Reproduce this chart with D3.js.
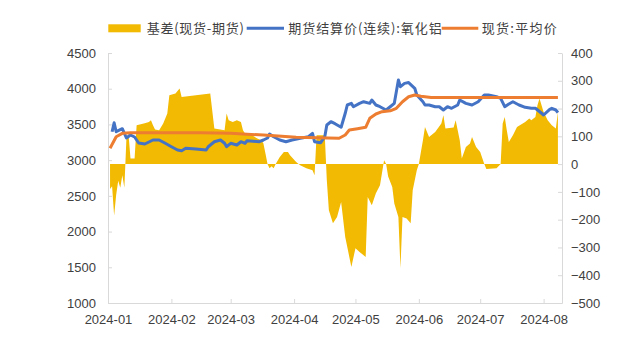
<!DOCTYPE html>
<html><head><meta charset="utf-8">
<script src="https://cdn.jsdelivr.net/npm/d3@7"></script>
<style>body{margin:0;background:#fff;} svg{display:block;}</style>
</head><body><svg id="c" width="641" height="341"></svg>
<script>
// ---- data ----
const seriesNames = ["基差(现货-期货)", "期货结算价(连续):氧化铝", "现货:平均价"];
const monthTicks = ["2024-01","2024-02","2024-03","2024-04","2024-05","2024-06","2024-07","2024-08"];
const leftTicks = [1000,1500,2000,2500,3000,3500,4000,4500];
const rightTicks = [-500,-400,-300,-200,-100,0,100,200,300,400];

const basisDates = ["01-02","01-03","01-04","01-05","01-06","01-07","01-08","01-09","01-10","01-11","01-12","01-14","01-15","01-19","01-21","01-22","01-23","01-24","01-26","01-28","01-30","01-31","02-03","02-05","02-06","02-10","02-20","02-22","02-27","02-28","02-29","03-02","03-04","03-06","03-07","03-08","03-10","03-14","03-16","03-17","03-18","03-19","03-20","03-21","03-22","03-23","03-25","03-27","03-29","03-30","04-02","04-04","04-07","04-10","04-11","04-12","04-16","04-17","04-18","04-20","04-22","04-24","04-26","04-28","04-29","05-01","05-03","05-06","05-07","05-09","05-11","05-13","05-15","05-16","05-17","05-19","05-20","05-22","05-23","05-24","05-26","05-28","05-29","05-31","06-01","06-03","06-04","06-06","06-09","06-12","06-13","06-14","06-18","06-19","06-21","06-22","06-24","06-26","06-27","06-29","07-01","07-03","07-04","07-09","07-11","07-12","07-13","07-14","07-15","07-17","07-19","07-23","07-25","07-26","07-28","07-29","07-30","08-01","08-03","08-05","08-07","08-08"];
const basisValues = [-90,-80,-185,-110,-60,-85,-40,-85,90,110,20,20,140,147,152,158,140,125,122,146,182,248,254,272,242,245,254,128,122,182,158,152,158,152,122,110,110,92,86,74,38,0,-15,-8,-15,0,26,44,44,32,8,-4,-15,-22,-40,104,104,-58,-166,-213,-190,-136,-262,-334,-370,-303,-316,-334,-118,-148,-105,-76,14,0,-45,-82,-142,-190,-375,-190,-196,-213,-94,-22,0,86,134,98,116,146,176,128,132,158,86,20,62,74,98,62,44,0,-18,-15,0,146,170,122,80,104,134,152,164,158,170,212,236,188,158,140,128,188];

const futuresDates = ["01-03","01-04","01-05","01-08","01-10","01-12","01-14","01-16","01-19","01-23","01-26","01-29","02-01","02-04","02-06","02-08","02-13","02-18","02-19","02-22","02-25","02-27","02-28","03-01","03-04","03-06","03-08","03-09","03-15","03-17","03-19","03-20","03-22","03-25","03-28","03-31","04-04","04-08","04-10","04-11","04-14","04-16","04-17","04-19","04-21","04-24","04-26","04-27","04-29","04-30","05-03","05-05","05-08","05-09","05-11","05-13","05-16","05-18","05-20","05-22","05-23","05-25","05-27","05-30","05-31","06-03","06-04","06-06","06-09","06-11","06-13","06-15","06-17","06-20","06-21","06-24","06-27","06-30","07-03","07-05","07-09","07-11","07-13","07-15","07-17","07-20","07-23","07-26","07-28","07-31","08-01","08-04","08-05","08-07","08-08"];
const futuresValues = [3398,3524,3398,3440,3310,3352,3324,3240,3226,3282,3282,3236,3188,3142,3132,3166,3156,3142,3188,3258,3282,3236,3188,3236,3212,3258,3236,3272,3258,3282,3310,3366,3328,3282,3258,3282,3306,3328,3375,3258,3244,3328,3492,3538,3510,3460,3656,3772,3795,3748,3795,3818,3795,3842,3772,3748,3702,3748,3795,4122,4028,4075,4086,4006,3912,3818,3772,3772,3748,3748,3702,3748,3726,3772,3842,3795,3772,3818,3912,3912,3888,3866,3748,3786,3818,3772,3740,3726,3726,3656,3632,3712,3726,3702,3665];

const spotDates = ["01-02","01-05","01-08","01-12","02-15","03-01","03-11","03-17","04-02","04-23","04-26","04-28","05-02","05-06","05-08","05-11","05-14","05-18","05-21","05-24","05-27","05-30","06-02","06-07","08-08"];
const spotValues = [3166,3328,3375,3385,3385,3375,3360,3352,3320,3306,3352,3422,3440,3460,3586,3646,3678,3690,3726,3818,3888,3912,3895,3878,3878];

// ---- chart ----
const W = 641, H = 341;
const M = {left:108, right:641-562, top:53, bottom:341-303};
const svg = d3.select("#c");
const parse = d3.timeParse("%Y-%m-%d");
const toDate = s => parse("2024-" + s);

const x = d3.scaleTime().domain([parse("2024-01-01"), parse("2024-08-10")]).range([M.left, W - M.right]);
const yL = d3.scaleLinear().domain([1000, 4500]).range([H - M.bottom, M.top]);
const yR = d3.scaleLinear().domain([-500, 400]).range([H - M.bottom, M.top]);

const FONT = "'Liberation Sans', Arial, sans-serif";
const CJK = "'Noto Sans CJK SC', sans-serif";
const axisColor = "#d9d9d9", textColor = "#404040";
const gold = "#F2BA02", blue = "#4472C4", orange = "#ED7D31";

const basis = basisDates.map((d,i)=>({d:toDate(d), v:basisValues[i]}));
const fut = futuresDates.map((d,i)=>({d:toDate(d), v:futuresValues[i]}));
const spot = spotDates.map((d,i)=>({d:toDate(d), v:spotValues[i]}));

// area
svg.append("path").datum(basis)
  .attr("fill", gold)
  .attr("d", d3.area().x(p=>x(p.d)).y0(yR(0)).y1(p=>yR(p.v)));

// axes
function styleAxis(g){
  g.select(".domain").attr("stroke", axisColor);
  g.selectAll(".tick line").attr("stroke", axisColor);
  g.selectAll(".tick text").attr("fill", textColor).attr("font-family", FONT).attr("font-size", 13);
}
const xAxis = d3.axisBottom(x)
  .tickValues(monthTicks.map(m=>parse(m+"-01")))
  .tickFormat((d,i)=>monthTicks[i])
  .tickSizeInner(-4).tickSizeOuter(0).tickPadding(12);
svg.append("g").attr("transform", `translate(0,${H-M.bottom})`).call(xAxis).call(styleAxis);

const lAxis = d3.axisLeft(yL).tickValues(leftTicks).tickFormat(d3.format("d"))
  .tickSizeInner(-4).tickSizeOuter(0).tickPadding(12);
svg.append("g").attr("transform", `translate(${M.left},0)`).call(lAxis).call(styleAxis);

const rAxis = d3.axisRight(yR).tickValues(rightTicks).tickFormat(d3.format("d"))
  .tickSizeInner(-4).tickSizeOuter(0).tickPadding(9);
svg.append("g").attr("transform", `translate(${W-M.right},0)`).call(rAxis).call(styleAxis);

// lines
const line = d3.line().x(p=>x(p.d)).y(p=>yL(p.v));
svg.append("path").datum(fut).attr("fill","none").attr("stroke",blue)
  .attr("stroke-width",3).attr("stroke-linejoin","round").attr("d", line);
svg.append("path").datum(spot).attr("fill","none").attr("stroke",orange)
  .attr("stroke-width",3).attr("stroke-linejoin","round").attr("d", line);

// legend
const leg = svg.append("g");
const ly = 28.3;
const legendLayout = [
  {type:"rect", color:gold, x:108.3, w:32.4, tx:146.7, tw:97.3},
  {type:"line", color:blue, x:246.7, w:37.3, tx:288.3, tw:153.4},
  {type:"line", color:orange, x:441.7, w:36.6, tx:481.7, tw:75}
];
seriesNames.forEach((name,i)=>{
  const s = legendLayout[i];
  if (s.type === "rect") {
    leg.append("rect").attr("x", s.x).attr("y", ly-4).attr("width", s.w).attr("height", 8).attr("fill", s.color);
  } else {
    leg.append("line").attr("x1", s.x).attr("x2", s.x+s.w).attr("y1", ly).attr("y2", ly)
      .attr("stroke", s.color).attr("stroke-width", 3);
  }
  leg.append("text").attr("x", s.tx).attr("y", ly+4.5).text(name)
    .attr("font-family", CJK).attr("font-size", 13).attr("fill", textColor)
    .attr("textLength", s.tw).attr("lengthAdjust", "spacing");
});
</script>
</body></html>
